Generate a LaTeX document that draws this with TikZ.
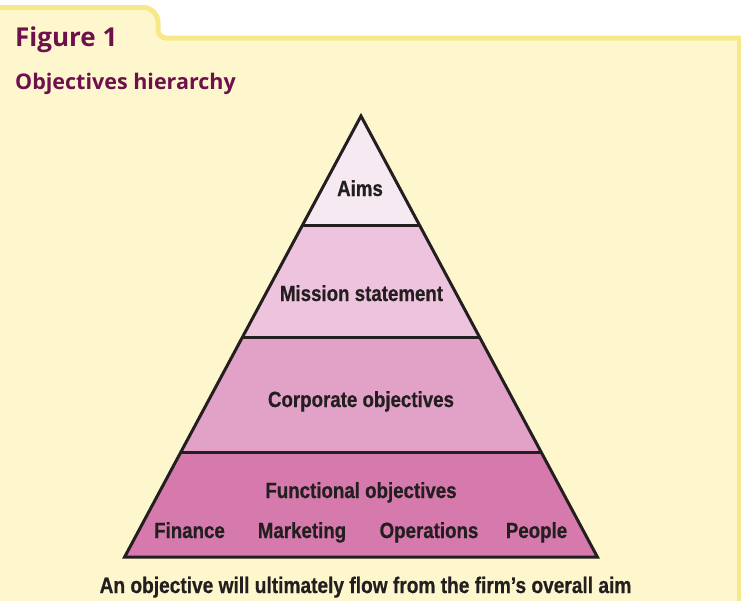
\documentclass[tikz,border=0pt]{standalone}
\usepackage{fontspec}
\newfontfamily\condfont[FakeStretch=0.85, BoldFeatures={FakeBold=0.6}]{Liberation Sans}
\newfontfamily\titlefont{Open Sans}
\definecolor{panel}{RGB}{254,247,205}
\definecolor{panelborder}{RGB}{247,233,138}
\definecolor{titlecol}{RGB}{110,16,75}
\definecolor{inkcol}{RGB}{35,31,32}
\definecolor{levelA}{RGB}{247,233,242}
\definecolor{levelB}{RGB}{237,195,221}
\definecolor{levelC}{RGB}{226,161,198}
\definecolor{levelD}{RGB}{214,121,173}
\tikzset{
  lbl/.style={font=\condfont\bfseries\fontsize{22}{24}\selectfont, text=inkcol, inner sep=0pt, anchor=base},
  ttl/.style={text=titlecol, inner sep=0pt, anchor=base west},
}
\begin{document}
\begin{tikzpicture}[x=1pt,y=-1pt]
\useasboundingbox (0,0) rectangle (741,600);
% panel with tab
\fill[white] (0,0) rectangle (741,600);
\draw[panelborder, line width=5pt, fill=panel]
  (-10,7.5) -- (143,7.5) .. controls (151.3,7.5) and (158,14.2) .. (158,22.5)
  -- (158,30) .. controls (158,34.4) and (161.6,38) .. (166,38)
  -- (739.5,38) -- (739.5,610) -- (-10,610) -- cycle;
% pyramid tiers
\coordinate (apex) at (361,116);
\coordinate (l1) at (302.6,225); \coordinate (r1) at (419.4,225);
\coordinate (l2) at (242.5,337); \coordinate (r2) at (479.5,337);
\coordinate (l3) at (181,452);   \coordinate (r3) at (541,452);
\coordinate (l4) at (124.6,557); \coordinate (r4) at (597.4,557);
\fill[levelA] (apex) -- (r1) -- (l1) -- cycle;
\fill[levelB] (l1) -- (r1) -- (r2) -- (l2) -- cycle;
\fill[levelC] (l2) -- (r2) -- (r3) -- (l3) -- cycle;
\fill[levelD] (l3) -- (r3) -- (r4) -- (l4) -- cycle;
\draw[inkcol, line width=3pt, line join=miter] (apex) -- (r4) -- (l4) -- cycle;
\draw[inkcol, line width=3pt] (l1) -- (r1) (l2) -- (r2) (l3) -- (r3);
% texts
\node[ttl, font=\titlefont\bfseries\fontsize{26}{28}\selectfont] (fig) at (15,46) {Figure 1};
\node[ttl, font=\titlefont\bfseries\fontsize{21.5}{24}\selectfont] (sub) at (15,89) {Objectives hierarchy};
\node[lbl] (aims) at (360,196) {Aims};
\node[lbl] (mission) at (361.5,301) {Mission statement};
\node[lbl] (corp) at (361,407) {Corporate objectives};
\node[lbl] (func) at (361,498) {Functional objectives};
\node[lbl] (fin) at (189.5,538) {Finance};
\node[lbl] (mkt) at (302,538) {Marketing};
\node[lbl] (ops) at (429,538) {Operations};
\node[lbl] (ppl) at (536.5,538) {People};
\node[lbl, font=\condfont\bfseries\fontsize{22.5}{24}\selectfont] (cap) at (365.5,593) {An objective will ultimately flow from the firm’s overall aim};
\end{tikzpicture}
\end{document}
